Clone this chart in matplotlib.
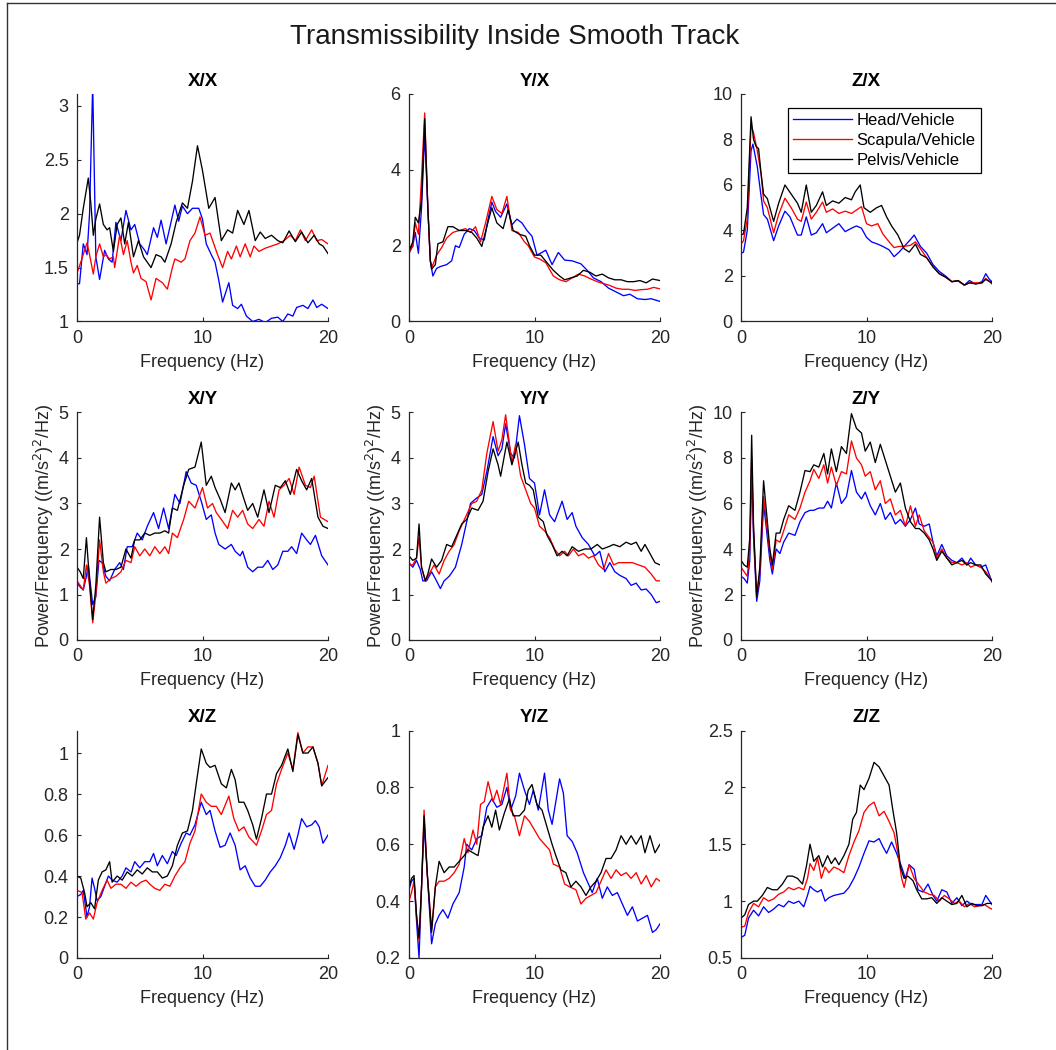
import matplotlib
matplotlib.use('Agg')

import matplotlib.pyplot as plt
from matplotlib.lines import Line2D
from matplotlib.ticker import FormatStrFormatter

plt.rcParams['font.family'] = ['Liberation Sans', 'DejaVu Sans']

# Transmissibility curves, (frequency Hz, value) pairs
# --- X/X ---
xx_head = [(0, 1.35), (0.2, 1.35), (0.5, 1.72), (0.8, 1.62), (1.0, 2.0), (1.25, 3.2), (1.5, 1.6), (1.8, 1.39),
           (2.2, 1.66), (2.5, 1.58), (2.8, 1.55), (3.1, 1.92), (3.5, 1.75), (3.9, 2.03), (4.3, 1.85), (4.6, 1.9),
           (5.0, 1.72), (5.4, 1.66), (5.6, 1.62), (6.1, 1.87), (6.4, 1.78), (6.7, 1.94), (7.1, 1.72), (7.8, 2.08),
           (8.1, 1.93), (8.4, 2.07), (8.8, 2.0), (9.2, 2.05), (9.7, 2.05), (10.0, 1.95), (10.3, 1.72), (10.7, 1.62),
           (11.0, 1.55), (11.3, 1.38), (11.6, 1.18), (12.1, 1.36), (12.4, 1.15), (12.8, 1.12), (13.1, 1.16),
           (13.5, 1.05), (14.0, 1.0), (14.5, 1.02), (15.0, 0.99), (15.5, 1.03), (16.0, 1.04), (16.4, 1.0),
           (16.8, 1.07), (17.2, 1.05), (17.5, 1.13), (18.0, 1.15), (18.4, 1.12), (18.8, 1.2), (19.1, 1.13),
           (19.5, 1.16), (20, 1.12)]
xx_scap = [(0, 1.45), (0.3, 1.55), (0.8, 1.73), (1.0, 1.62), (1.3, 1.44), (1.5, 1.6), (1.8, 1.72), (2.1, 1.6),
           (2.3, 1.62), (2.6, 1.58), (2.9, 1.6), (3.0, 1.5), (3.4, 1.8), (3.7, 1.62), (4.0, 1.75), (4.3, 1.55),
           (4.5, 1.45), (4.8, 1.52), (5.1, 1.4), (5.5, 1.37), (5.9, 1.2), (6.3, 1.4), (6.8, 1.36), (7.2, 1.3),
           (7.6, 1.5), (7.8, 1.58), (8.3, 1.55), (8.6, 1.58), (9.0, 1.75), (9.4, 1.82), (9.8, 1.97), (10.2, 1.8),
           (10.6, 1.82), (11.2, 1.62), (11.6, 1.5), (12.0, 1.65), (12.3, 1.58), (12.7, 1.7), (13.0, 1.6),
           (13.4, 1.72), (13.8, 1.6), (14.1, 1.7), (14.5, 1.65), (15.0, 1.68), (15.5, 1.7), (16.0, 1.72),
           (16.5, 1.75), (17.0, 1.8), (17.4, 1.75), (17.8, 1.85), (18.2, 1.75), (18.7, 1.85), (19.1, 1.75),
           (19.5, 1.76), (20, 1.72)]
xx_pelv = [(0, 1.73), (0.2, 1.8), (0.5, 2.05), (0.9, 2.33), (1.1, 2.1), (1.3, 1.8), (1.5, 1.95), (1.8, 2.09),
           (2.1, 1.9), (2.4, 1.85), (2.6, 1.87), (2.9, 1.65), (3.2, 1.9), (3.5, 1.96), (3.8, 1.72), (4.1, 1.92),
           (4.5, 1.6), (4.9, 1.75), (5.3, 1.6), (5.9, 1.5), (6.3, 1.62), (6.7, 1.6), (7.0, 1.55), (7.5, 1.72),
           (7.9, 1.92), (8.4, 2.1), (8.8, 2.05), (9.2, 2.3), (9.6, 2.63), (10.0, 2.4), (10.5, 2.05), (11.0, 2.15),
           (11.5, 1.75), (12.0, 1.85), (12.4, 1.82), (12.8, 2.03), (13.3, 1.9), (13.7, 2.03), (14.2, 1.75),
           (14.6, 1.83), (15.0, 1.77), (15.5, 1.8), (16.0, 1.75), (16.4, 1.73), (16.9, 1.84), (17.4, 1.74),
           (17.9, 1.83), (18.4, 1.73), (18.9, 1.8), (19.3, 1.72), (19.6, 1.7), (20, 1.63)]

# --- Y/X ---
yx_head = [(0, 1.8), (0.3, 2.0), (0.5, 2.35), (0.75, 1.8), (1.0, 3.0), (1.25, 4.95), (1.5, 3.0), (1.7, 1.6),
           (1.9, 1.2), (2.2, 1.4), (2.5, 1.45), (3.0, 1.5), (3.4, 1.6), (3.7, 2.0), (4.0, 1.95), (4.4, 2.3),
           (4.8, 2.45), (5.2, 2.4), (5.6, 2.2), (6.0, 2.15), (6.3, 2.7), (6.6, 3.15), (6.9, 2.9), (7.3, 2.75),
           (7.8, 3.1), (8.2, 2.55), (8.6, 2.7), (9.0, 2.6), (9.4, 2.4), (9.8, 2.25), (10.2, 1.75), (10.9, 1.88),
           (11.4, 1.5), (11.9, 1.82), (12.4, 1.62), (13.0, 1.6), (13.7, 1.52), (14.2, 1.35), (14.7, 1.15),
           (15.3, 1.05), (15.9, 0.88), (16.5, 0.78), (17.1, 0.68), (17.6, 0.72), (18.2, 0.6), (18.8, 0.58),
           (19.3, 0.6), (20, 0.53)]
yx_scap = [(0, 1.8), (0.3, 2.0), (0.5, 2.6), (0.75, 2.3), (1.0, 3.8), (1.25, 5.5), (1.5, 3.0), (1.7, 1.6),
           (1.85, 1.45), (2.2, 1.75), (2.6, 1.95), (3.0, 2.2), (3.5, 2.35), (4.0, 2.4), (4.5, 2.45), (4.9, 2.35),
           (5.3, 2.5), (5.7, 2.1), (6.1, 2.6), (6.6, 3.3), (7.0, 2.95), (7.4, 2.85), (7.8, 3.3), (8.2, 2.4),
           (8.7, 2.35), (9.2, 2.1), (9.5, 2.0), (10.0, 1.7), (10.4, 1.65), (10.9, 1.55), (11.5, 1.2), (12.0, 1.1),
           (12.5, 1.05), (13.0, 1.15), (13.5, 1.25), (14.0, 1.2), (14.5, 1.12), (15.0, 1.05), (15.5, 1.0),
           (16.0, 0.95), (16.5, 0.88), (17.0, 0.85), (17.5, 0.85), (18.0, 0.82), (18.5, 0.84), (19.0, 0.85),
           (19.5, 0.9), (20, 0.86)]
yx_pelv = [(0, 1.85), (0.3, 2.1), (0.5, 2.75), (0.75, 2.6), (1.0, 3.2), (1.25, 5.35), (1.5, 3.0), (1.7, 1.6),
           (1.8, 1.38), (2.1, 1.5), (2.3, 2.05), (2.7, 2.1), (3.1, 2.5), (3.5, 2.5), (4.0, 2.4), (4.5, 2.4),
           (5.0, 2.35), (5.4, 2.2), (5.8, 1.98), (6.2, 2.5), (6.6, 3.0), (7.0, 2.6), (7.5, 2.45), (7.9, 2.95),
           (8.3, 2.4), (8.8, 2.3), (9.3, 2.25), (9.6, 2.0), (10.0, 1.75), (10.5, 1.75), (11.0, 1.55), (11.5, 1.35),
           (12.0, 1.2), (12.4, 1.1), (12.9, 1.15), (13.4, 1.2), (13.9, 1.35), (14.4, 1.3), (14.9, 1.2),
           (15.4, 1.25), (15.9, 1.15), (16.4, 1.1), (16.9, 1.1), (17.4, 1.05), (17.9, 1.05), (18.4, 1.08),
           (18.9, 1.02), (19.4, 1.12), (20, 1.08)]

# --- Z/X ---
zx_head = [(0, 3.0), (0.2, 3.05), (0.5, 4.0), (0.8, 7.5), (0.95, 7.8), (1.3, 6.8), (1.6, 5.5), (1.8, 4.7),
           (2.1, 4.5), (2.6, 3.55), (3.0, 4.2), (3.5, 4.85), (3.9, 4.6), (4.5, 3.8), (4.8, 3.8), (5.2, 4.6),
           (5.6, 3.8), (6.0, 3.9), (6.5, 4.3), (6.8, 3.9), (7.3, 4.1), (7.8, 4.3), (8.3, 3.95), (8.8, 4.1),
           (9.2, 4.2), (9.6, 4.1), (10.0, 3.7), (10.4, 3.5), (10.9, 3.4), (11.3, 3.3), (11.8, 3.15), (12.2, 2.85),
           (12.6, 3.05), (13.0, 3.3), (13.5, 3.6), (13.8, 3.8), (14.3, 3.3), (14.8, 3.0), (15.3, 2.5), (15.8, 2.2),
           (16.3, 2.0), (16.8, 1.75), (17.3, 1.78), (17.8, 1.6), (18.2, 1.8), (18.7, 1.65), (19.2, 1.75),
           (19.5, 2.1), (19.8, 1.85), (20, 1.75)]
zx_scap = [(0, 3.4), (0.2, 3.55), (0.5, 4.5), (0.8, 8.6), (1.0, 8.3), (1.3, 7.5), (1.6, 6.5), (1.8, 5.3),
           (2.1, 5.0), (2.6, 3.9), (3.0, 4.7), (3.5, 5.42), (4.0, 5.0), (4.5, 4.5), (4.8, 4.4), (5.2, 5.25),
           (5.6, 4.5), (6.0, 4.8), (6.5, 5.25), (6.8, 4.8), (7.3, 4.95), (7.8, 4.75), (8.3, 4.85), (8.8, 4.75),
           (9.2, 4.9), (9.6, 5.05), (10.0, 4.3), (10.4, 4.2), (10.9, 4.3), (11.3, 3.85), (11.8, 3.5), (12.2, 3.25),
           (12.6, 3.3), (13.0, 3.3), (13.5, 3.35), (13.9, 3.5), (14.3, 3.2), (14.8, 2.8), (15.3, 2.4), (15.8, 2.1),
           (16.3, 1.95), (16.8, 1.75), (17.3, 1.8), (17.8, 1.6), (18.2, 1.7), (18.7, 1.7), (19.2, 1.7),
           (19.5, 1.9), (20, 1.65)]
zx_pelv = [(0, 3.8), (0.2, 3.85), (0.5, 5.0), (0.8, 9.0), (1.0, 8.0), (1.2, 7.7), (1.4, 7.6), (1.6, 6.5),
           (1.8, 5.6), (2.1, 5.4), (2.6, 4.4), (3.0, 5.2), (3.5, 6.0), (4.0, 5.6), (4.5, 5.2), (4.8, 4.8),
           (5.2, 6.0), (5.6, 4.8), (6.0, 5.1), (6.5, 5.7), (6.8, 5.1), (7.3, 5.3), (7.8, 5.2), (8.3, 5.45),
           (8.8, 5.35), (9.1, 5.7), (9.5, 6.0), (9.8, 5.0), (10.3, 4.8), (10.8, 5.0), (11.2, 5.1), (11.6, 4.6),
           (12.0, 4.2), (12.5, 3.8), (13.0, 3.2), (13.4, 3.05), (13.9, 3.4), (14.3, 2.95), (14.8, 2.8),
           (15.3, 2.4), (15.8, 2.1), (16.3, 1.95), (16.8, 1.75), (17.3, 1.8), (17.8, 1.6), (18.2, 1.7),
           (18.7, 1.65), (19.2, 1.7), (19.5, 1.85), (20, 1.7)]

# --- X/Y ---
xy_head = [(0, 1.25), (0.3, 1.15), (0.5, 1.1), (0.75, 1.4), (0.9, 1.65), (1.25, 0.78), (1.5, 0.95), (1.75, 1.75),
           (2.0, 1.7), (2.3, 1.4), (2.6, 1.3), (3.0, 1.55), (3.4, 1.7), (3.7, 1.55), (4.0, 2.05), (4.4, 2.05),
           (4.8, 2.35), (5.2, 2.2), (5.6, 2.5), (6.1, 2.8), (6.5, 2.45), (6.9, 2.9), (7.3, 2.45), (7.8, 3.2),
           (8.2, 3.0), (8.7, 3.7), (9.1, 3.45), (9.5, 3.4), (9.9, 3.05), (10.3, 2.65), (10.7, 2.75), (11.0, 2.35),
           (11.3, 2.1), (11.8, 2.0), (12.3, 2.1), (12.6, 1.95), (13.0, 1.85), (13.2, 1.95), (13.6, 1.6),
           (14.0, 1.5), (14.4, 1.6), (14.8, 1.6), (15.2, 1.75), (15.6, 1.55), (16.0, 1.65), (16.4, 1.95),
           (16.8, 1.95), (17.1, 2.05), (17.5, 1.9), (17.9, 2.35), (18.3, 2.2), (18.6, 2.1), (19.0, 2.3),
           (19.5, 1.85), (20, 1.65)]
xy_scap = [(0, 1.3), (0.25, 1.2), (0.5, 1.1), (0.75, 1.65), (1.0, 1.2), (1.25, 0.38), (1.5, 1.0), (1.8, 2.2),
           (2.1, 1.5), (2.3, 1.25), (2.7, 1.35), (3.1, 1.4), (3.5, 1.5), (3.9, 1.75), (4.3, 1.7), (4.6, 2.05),
           (5.0, 1.85), (5.4, 2.0), (5.8, 1.85), (6.2, 2.05), (6.6, 1.9), (7.0, 2.05), (7.3, 1.9), (7.6, 2.35),
           (8.0, 2.25), (8.5, 2.65), (8.9, 3.05), (9.4, 2.9), (10.0, 3.35), (10.4, 2.9), (10.8, 3.0), (11.1, 2.8),
           (11.5, 2.65), (12.0, 2.45), (12.4, 2.85), (12.8, 2.7), (13.2, 2.85), (13.6, 2.55), (14.0, 2.45),
           (14.5, 2.65), (14.9, 2.5), (15.3, 3.05), (15.7, 2.7), (16.1, 3.3), (16.5, 3.4), (16.9, 3.55),
           (17.3, 3.2), (17.7, 3.8), (18.2, 3.4), (18.6, 3.35), (18.9, 3.6), (19.4, 2.7), (20, 2.6)]
xy_pelv = [(0, 1.6), (0.25, 1.5), (0.5, 1.35), (0.75, 2.25), (1.0, 1.3), (1.25, 0.45), (1.5, 1.2), (1.8, 2.7),
           (2.1, 1.7), (2.3, 1.5), (2.7, 1.55), (3.1, 1.55), (3.5, 1.6), (3.9, 2.0), (4.3, 1.8), (4.6, 2.2),
           (5.0, 2.2), (5.4, 2.35), (5.8, 2.3), (6.2, 2.35), (6.6, 2.35), (7.0, 2.4), (7.3, 2.35), (7.6, 2.9),
           (8.0, 2.85), (8.5, 3.4), (8.9, 3.75), (9.4, 3.8), (9.9, 4.35), (10.3, 3.4), (10.7, 3.6), (11.0, 3.35),
           (11.4, 3.1), (11.8, 2.8), (12.3, 3.45), (12.6, 3.3), (12.9, 3.45), (13.3, 3.1), (13.6, 2.85),
           (14.0, 3.0), (14.4, 2.7), (14.9, 3.3), (15.3, 2.8), (15.8, 3.4), (16.2, 3.35), (16.6, 3.5),
           (17.0, 3.2), (17.5, 3.75), (17.9, 3.5), (18.3, 3.3), (18.7, 3.55), (19.2, 2.7), (19.6, 2.5), (20, 2.45)]

# --- Y/Y ---
yy_head = [(0, 1.7), (0.3, 1.6), (0.6, 1.75), (0.9, 1.55), (1.1, 1.3), (1.4, 1.3), (1.8, 1.5), (2.1, 1.35),
           (2.5, 1.13), (2.8, 1.3), (3.2, 1.4), (3.7, 1.6), (4.2, 2.1), (4.6, 2.6), (4.9, 3.0), (5.3, 3.1),
           (5.8, 3.2), (6.2, 3.7), (6.7, 4.47), (7.1, 4.05), (7.4, 4.2), (7.7, 4.75), (8.1, 4.1), (8.4, 4.0),
           (8.8, 4.93), (9.2, 4.3), (9.6, 3.55), (10.0, 3.45), (10.4, 2.75), (10.8, 3.3), (11.2, 2.75),
           (11.6, 2.6), (12.2, 3.05), (12.6, 2.65), (13.0, 2.8), (13.3, 2.5), (13.8, 2.25), (14.3, 2.1),
           (14.8, 1.85), (15.2, 1.95), (15.6, 1.5), (16.0, 1.7), (16.4, 1.5), (16.8, 1.42), (17.3, 1.35),
           (17.7, 1.2), (18.1, 1.25), (18.5, 1.1), (18.9, 1.12), (19.3, 1.0), (19.7, 0.82), (20, 0.85)]
yy_scap = [(0, 1.65), (0.3, 1.65), (0.6, 1.8), (0.8, 2.25), (1.0, 1.6), (1.3, 1.3), (1.6, 1.45), (2.0, 1.65),
           (2.4, 1.45), (2.8, 1.75), (3.2, 1.95), (3.6, 2.1), (4.0, 2.4), (4.5, 2.7), (5.0, 3.0), (5.4, 3.05),
           (5.8, 3.3), (6.2, 4.1), (6.7, 4.8), (7.1, 4.15), (7.4, 4.4), (7.7, 4.95), (8.2, 3.9), (8.5, 4.3),
           (8.9, 3.6), (9.3, 3.3), (9.7, 3.0), (10.0, 2.9), (10.4, 2.5), (10.8, 2.4), (11.2, 2.25), (11.6, 2.0),
           (12.0, 1.85), (12.4, 1.95), (12.7, 1.85), (13.1, 2.0), (13.5, 1.85), (13.9, 1.9), (14.3, 1.8),
           (14.7, 1.85), (15.1, 1.65), (15.5, 1.55), (15.9, 1.9), (16.3, 1.65), (16.7, 1.7), (17.3, 1.7),
           (17.8, 1.7), (18.3, 1.65), (18.8, 1.6), (19.3, 1.45), (19.7, 1.3), (20, 1.3)]
yy_pelv = [(0, 1.85), (0.3, 1.75), (0.6, 1.8), (0.8, 2.55), (1.0, 1.6), (1.3, 1.3), (1.5, 1.45), (1.8, 1.78),
           (2.2, 1.6), (2.6, 1.75), (3.0, 2.1), (3.4, 2.05), (3.8, 2.3), (4.2, 2.55), (4.6, 2.65), (5.0, 2.9),
           (5.5, 2.85), (5.9, 3.05), (6.3, 3.7), (6.7, 4.2), (7.1, 3.85), (7.3, 3.6), (7.8, 4.35), (8.2, 3.85),
           (8.7, 4.35), (9.0, 3.85), (9.3, 3.45), (9.6, 3.4), (9.9, 3.3), (10.3, 2.7), (10.7, 2.6), (11.0, 2.3),
           (11.4, 2.1), (11.8, 1.85), (12.2, 1.95), (12.6, 1.85), (13.0, 2.05), (13.5, 1.95), (14.0, 2.0),
           (14.5, 2.0), (15.0, 2.1), (15.4, 2.0), (15.9, 2.05), (16.3, 2.1), (16.8, 2.05), (17.3, 2.15),
           (17.7, 2.1), (18.1, 2.15), (18.5, 1.95), (18.8, 2.1), (19.2, 1.9), (19.6, 1.7), (20, 1.65)]

# --- Z/Y ---
zy_head = [(0, 2.8), (0.25, 2.7), (0.5, 2.5), (0.7, 3.5), (0.85, 7.5), (1.0, 4.5), (1.25, 1.7), (1.5, 2.6),
           (1.8, 6.0), (2.0, 5.0), (2.3, 3.5), (2.5, 2.9), (2.8, 4.0), (3.1, 3.8), (3.4, 4.3), (3.8, 4.7),
           (4.3, 4.6), (4.7, 5.2), (5.1, 5.6), (5.5, 5.7), (5.8, 5.7), (6.2, 5.8), (6.6, 5.8), (6.9, 6.1),
           (7.2, 5.8), (7.6, 6.9), (8.0, 6.0), (8.4, 6.3), (8.8, 7.45), (9.2, 6.5), (9.6, 6.2), (9.9, 6.5),
           (10.3, 5.9), (10.7, 5.5), (11.1, 6.0), (11.5, 5.3), (11.9, 5.6), (12.3, 5.1), (12.7, 5.3), (13.1, 5.0),
           (13.5, 5.3), (13.9, 5.8), (14.2, 5.1), (14.6, 5.0), (15.0, 5.1), (15.3, 4.3), (15.6, 3.7), (16.0, 4.2),
           (16.4, 3.7), (16.8, 3.5), (17.2, 3.4), (17.6, 3.6), (18.0, 3.3), (18.3, 3.6), (18.7, 3.3), (19.1, 3.2),
           (19.5, 3.3), (20, 2.55)]
zy_scap = [(0, 3.2), (0.25, 3.0), (0.5, 2.8), (0.7, 4.0), (0.85, 8.0), (1.0, 4.8), (1.25, 1.9), (1.5, 3.0),
           (1.8, 6.3), (2.0, 5.3), (2.3, 3.8), (2.5, 3.1), (2.8, 4.4), (3.1, 4.3), (3.4, 4.8), (3.8, 5.5),
           (4.3, 5.3), (4.7, 5.8), (5.1, 6.5), (5.5, 7.0), (5.8, 7.5), (6.2, 7.1), (6.6, 7.7), (6.9, 6.9),
           (7.2, 7.6), (7.6, 6.8), (8.0, 7.4), (8.4, 7.3), (8.8, 8.75), (9.2, 8.0), (9.6, 7.7), (9.9, 7.2),
           (10.3, 7.4), (10.7, 6.6), (11.1, 7.0), (11.5, 6.0), (11.9, 6.2), (12.3, 5.5), (12.7, 5.7), (13.1, 5.0),
           (13.5, 5.9), (13.9, 5.0), (14.2, 5.5), (14.6, 4.8), (15.0, 4.5), (15.3, 4.3), (15.6, 3.6), (16.0, 4.0),
           (16.4, 3.6), (16.8, 3.4), (17.2, 3.4), (17.6, 3.3), (18.0, 3.4), (18.3, 3.2), (18.7, 3.3), (19.1, 3.2),
           (19.5, 3.0), (20, 2.6)]
zy_pelv = [(0, 3.5), (0.25, 3.3), (0.5, 3.2), (0.7, 4.5), (0.85, 9.0), (1.0, 5.0), (1.25, 1.9), (1.5, 3.2),
           (1.8, 7.0), (2.0, 5.8), (2.3, 4.0), (2.5, 3.3), (2.8, 4.7), (3.1, 4.7), (3.4, 5.3), (3.8, 5.9),
           (4.3, 5.7), (4.7, 6.5), (5.1, 7.45), (5.5, 7.4), (5.8, 7.7), (6.2, 7.6), (6.6, 8.2), (6.9, 7.3),
           (7.2, 8.4), (7.6, 7.4), (8.0, 8.5), (8.4, 8.2), (8.8, 9.95), (9.2, 9.3), (9.6, 9.1), (9.9, 8.3),
           (10.3, 8.7), (10.7, 7.8), (11.1, 8.6), (11.5, 7.9), (11.9, 7.2), (12.3, 6.5), (12.7, 6.9), (13.1, 5.8),
           (13.5, 5.2), (13.9, 4.9), (14.2, 4.9), (14.6, 4.7), (15.0, 4.4), (15.3, 4.0), (15.6, 3.5), (16.0, 3.9),
           (16.4, 3.6), (16.8, 3.3), (17.2, 3.4), (17.6, 3.5), (18.0, 3.3), (18.3, 3.4), (18.7, 3.3), (19.1, 3.3),
           (19.5, 2.9), (20, 2.6)]

# --- X/Z ---
xz_head = [(0, 0.3), (0.3, 0.31), (0.5, 0.33), (0.8, 0.2), (1.0, 0.25), (1.2, 0.39), (1.4, 0.34), (1.6, 0.28),
           (1.9, 0.3), (2.2, 0.35), (2.5, 0.4), (2.8, 0.38), (3.2, 0.37), (3.6, 0.4), (3.9, 0.44), (4.3, 0.42),
           (4.6, 0.47), (5.0, 0.44), (5.4, 0.47), (5.8, 0.47), (6.1, 0.51), (6.4, 0.45), (6.8, 0.5), (7.2, 0.46),
           (7.6, 0.52), (7.9, 0.5), (8.3, 0.56), (8.7, 0.61), (9.0, 0.6), (9.4, 0.65), (9.9, 0.76), (10.3, 0.7),
           (10.6, 0.72), (11.0, 0.62), (11.4, 0.54), (11.8, 0.55), (12.2, 0.61), (12.6, 0.55), (13.0, 0.43),
           (13.4, 0.45), (13.8, 0.39), (14.2, 0.35), (14.6, 0.35), (15.0, 0.38), (15.4, 0.42), (15.8, 0.45),
           (16.2, 0.49), (16.6, 0.55), (16.9, 0.61), (17.3, 0.53), (17.6, 0.6), (17.9, 0.68), (18.3, 0.64),
           (18.7, 0.65), (19.0, 0.67), (19.3, 0.64), (19.6, 0.56), (20, 0.6)]
xz_scap = [(0, 0.33), (0.4, 0.32), (0.7, 0.19), (1.0, 0.22), (1.3, 0.19), (1.6, 0.27), (2.0, 0.33), (2.4, 0.38),
           (2.7, 0.34), (3.1, 0.36), (3.5, 0.36), (3.9, 0.34), (4.3, 0.37), (4.7, 0.35), (5.1, 0.37), (5.5, 0.38),
           (5.8, 0.36), (6.2, 0.34), (6.6, 0.33), (7.0, 0.36), (7.4, 0.35), (7.8, 0.4), (8.2, 0.44), (8.6, 0.47),
           (9.0, 0.56), (9.4, 0.62), (9.9, 0.8), (10.3, 0.76), (10.7, 0.74), (11.1, 0.74), (11.5, 0.7),
           (12.1, 0.79), (12.5, 0.68), (12.9, 0.62), (13.3, 0.64), (13.7, 0.59), (14.3, 0.55), (14.7, 0.62),
           (15.1, 0.7), (15.5, 0.72), (15.9, 0.85), (16.3, 0.92), (16.8, 1.0), (17.2, 0.92), (17.6, 1.1),
           (18.0, 1.0), (18.4, 1.03), (18.8, 1.03), (19.2, 0.95), (19.5, 0.84), (20, 0.94)]
xz_pelv = [(0, 0.4), (0.3, 0.39), (0.6, 0.32), (0.8, 0.25), (1.1, 0.27), (1.4, 0.24), (1.7, 0.38), (2.0, 0.42),
           (2.3, 0.43), (2.6, 0.47), (2.8, 0.37), (3.2, 0.4), (3.6, 0.38), (4.0, 0.42), (4.4, 0.4), (4.8, 0.43),
           (5.2, 0.41), (5.6, 0.44), (6.0, 0.42), (6.4, 0.42), (6.8, 0.39), (7.2, 0.4), (7.6, 0.45), (8.0, 0.55),
           (8.4, 0.61), (8.8, 0.62), (9.2, 0.72), (9.5, 0.85), (9.9, 1.02), (10.3, 0.95), (10.6, 0.93),
           (11.0, 0.94), (11.5, 0.85), (11.9, 0.83), (12.3, 0.92), (12.6, 0.87), (12.9, 0.76), (13.3, 0.76),
           (13.6, 0.72), (14.0, 0.65), (14.3, 0.58), (14.7, 0.68), (15.1, 0.8), (15.5, 0.8), (15.9, 0.9),
           (16.3, 0.94), (16.8, 1.02), (17.2, 0.91), (17.6, 1.09), (18.0, 1.0), (18.4, 1.0), (18.8, 1.03),
           (19.2, 0.95), (19.5, 0.84), (20, 0.88)]

# --- Y/Z ---
yz_head = [(0, 0.44), (0.2, 0.47), (0.4, 0.48), (0.6, 0.33), (0.8, 0.2), (1.0, 0.45), (1.2, 0.67), (1.45, 0.5),
           (1.8, 0.25), (2.1, 0.32), (2.4, 0.35), (2.7, 0.37), (3.1, 0.34), (3.5, 0.39), (4.0, 0.43), (4.4, 0.52),
           (4.6, 0.6), (5.0, 0.58), (5.4, 0.62), (5.8, 0.63), (6.2, 0.73), (6.6, 0.76), (7.0, 0.73), (7.4, 0.74),
           (7.8, 0.8), (8.1, 0.72), (8.5, 0.77), (8.8, 0.85), (9.2, 0.79), (9.6, 0.74), (9.9, 0.79), (10.3, 0.72),
           (10.8, 0.85), (11.1, 0.72), (11.4, 0.67), (12.0, 0.83), (12.3, 0.78), (12.6, 0.63), (13.0, 0.61),
           (13.4, 0.57), (13.9, 0.5), (14.3, 0.46), (14.6, 0.43), (15.0, 0.48), (15.4, 0.41), (15.8, 0.45),
           (16.2, 0.42), (16.6, 0.43), (17.0, 0.39), (17.4, 0.35), (17.8, 0.38), (18.2, 0.33), (18.6, 0.34),
           (19.0, 0.35), (19.4, 0.29), (19.7, 0.3), (20, 0.32)]
yz_scap = [(0, 0.4), (0.2, 0.43), (0.4, 0.47), (0.6, 0.35), (0.8, 0.26), (1.0, 0.45), (1.2, 0.72), (1.45, 0.5),
           (1.8, 0.3), (2.1, 0.45), (2.4, 0.47), (2.8, 0.47), (3.2, 0.48), (3.6, 0.5), (4.0, 0.53), (4.4, 0.62),
           (4.7, 0.57), (5.1, 0.65), (5.4, 0.6), (5.7, 0.74), (6.0, 0.75), (6.3, 0.82), (6.7, 0.75), (7.0, 0.79),
           (7.3, 0.74), (7.8, 0.85), (8.1, 0.72), (8.4, 0.7), (8.8, 0.63), (9.2, 0.7), (9.6, 0.68), (10.0, 0.65),
           (10.4, 0.62), (10.8, 0.6), (11.2, 0.58), (11.5, 0.53), (12.0, 0.52), (12.4, 0.46), (12.8, 0.45),
           (13.3, 0.44), (13.7, 0.39), (14.1, 0.41), (14.5, 0.42), (14.9, 0.43), (15.3, 0.47), (15.7, 0.51),
           (16.1, 0.48), (16.5, 0.51), (16.9, 0.49), (17.3, 0.5), (17.7, 0.48), (18.1, 0.5), (18.5, 0.46),
           (18.9, 0.49), (19.3, 0.45), (19.7, 0.48), (20, 0.47)]
yz_pelv = [(0, 0.45), (0.2, 0.48), (0.4, 0.49), (0.6, 0.35), (0.8, 0.27), (1.0, 0.45), (1.2, 0.7), (1.45, 0.5),
           (1.8, 0.29), (2.1, 0.45), (2.4, 0.54), (2.8, 0.5), (3.2, 0.52), (3.6, 0.52), (4.0, 0.54), (4.4, 0.56),
           (4.7, 0.58), (5.1, 0.57), (5.5, 0.56), (5.9, 0.66), (6.3, 0.7), (6.6, 0.66), (6.9, 0.72), (7.2, 0.65),
           (7.6, 0.71), (8.0, 0.76), (8.3, 0.7), (8.8, 0.7), (9.2, 0.72), (9.5, 0.79), (9.8, 0.81), (10.2, 0.74),
           (10.6, 0.72), (11.0, 0.66), (11.4, 0.6), (11.7, 0.56), (12.1, 0.51), (12.5, 0.5), (12.9, 0.45),
           (13.3, 0.47), (13.7, 0.45), (14.1, 0.42), (14.5, 0.45), (14.9, 0.47), (15.3, 0.5), (15.7, 0.55),
           (16.1, 0.55), (16.5, 0.58), (16.9, 0.63), (17.3, 0.6), (17.7, 0.63), (18.1, 0.6), (18.5, 0.63),
           (18.8, 0.57), (19.2, 0.63), (19.6, 0.57), (20, 0.6)]

# --- Z/Z ---
zz_head = [(0, 0.68), (0.3, 0.7), (0.6, 0.85), (1.0, 0.92), (1.4, 0.87), (1.8, 0.95), (2.2, 0.9), (2.6, 0.93),
           (3.0, 0.97), (3.4, 0.95), (3.8, 1.0), (4.2, 0.98), (4.6, 1.0), (5.0, 0.95), (5.3, 1.05), (5.5, 1.13),
           (5.8, 1.1), (6.1, 1.08), (6.4, 1.1), (6.7, 1.0), (7.0, 1.03), (7.4, 1.05), (7.8, 1.06), (8.2, 1.07),
           (8.6, 1.12), (9.0, 1.2), (9.4, 1.3), (9.8, 1.42), (10.2, 1.53), (10.6, 1.52), (11.0, 1.55), (11.3, 1.48),
           (11.6, 1.42), (12.0, 1.52), (12.4, 1.42), (12.8, 1.3), (13.1, 1.2), (13.4, 1.32), (13.8, 1.28),
           (14.1, 1.1), (14.5, 1.08), (14.9, 1.15), (15.3, 1.05), (15.6, 1.0), (16.0, 1.1), (16.4, 1.08),
           (16.8, 0.98), (17.2, 1.03), (17.6, 0.96), (18.0, 1.0), (18.4, 0.97), (18.8, 0.97), (19.2, 0.97),
           (19.5, 1.05), (20, 0.97)]
zz_scap = [(0, 0.77), (0.3, 0.78), (0.6, 0.9), (1.0, 0.98), (1.4, 0.95), (1.8, 1.03), (2.2, 1.0), (2.6, 1.02),
           (3.0, 1.06), (3.4, 1.08), (3.8, 1.12), (4.2, 1.1), (4.6, 1.12), (5.0, 1.1), (5.3, 1.2), (5.5, 1.33),
           (5.8, 1.27), (6.1, 1.38), (6.4, 1.2), (6.7, 1.3), (7.0, 1.25), (7.4, 1.3), (7.8, 1.28), (8.2, 1.25),
           (8.6, 1.4), (9.0, 1.52), (9.4, 1.62), (9.8, 1.78), (10.2, 1.84), (10.6, 1.87), (11.0, 1.75),
           (11.4, 1.79), (11.8, 1.7), (12.2, 1.6), (12.5, 1.42), (12.8, 1.2), (13.0, 1.12), (13.4, 1.32),
           (13.8, 1.2), (14.2, 1.14), (14.6, 1.08), (15.0, 1.06), (15.4, 1.05), (15.8, 1.0), (16.2, 1.05),
           (16.6, 1.02), (17.0, 0.98), (17.4, 1.0), (17.8, 0.95), (18.2, 0.98), (18.6, 0.95), (19.0, 0.96),
           (19.4, 0.97), (19.8, 0.94), (20, 0.93)]
zz_pelv = [(0, 0.85), (0.3, 0.88), (0.6, 0.97), (1.0, 1.0), (1.3, 1.0), (1.7, 1.05), (2.1, 1.12), (2.5, 1.1),
           (2.9, 1.1), (3.3, 1.15), (3.7, 1.22), (4.1, 1.22), (4.5, 1.2), (4.9, 1.15), (5.2, 1.3), (5.5, 1.5),
           (5.8, 1.35), (6.2, 1.4), (6.5, 1.3), (6.9, 1.4), (7.2, 1.33), (7.5, 1.38), (7.8, 1.32), (8.2, 1.4),
           (8.6, 1.5), (8.9, 1.72), (9.2, 1.78), (9.5, 2.02), (9.8, 1.98), (10.2, 2.08), (10.6, 2.22),
           (11.0, 2.18), (11.4, 2.1), (11.8, 2.02), (12.1, 1.8), (12.4, 1.6), (12.7, 1.3), (13.0, 1.2),
           (13.3, 1.22), (13.7, 1.18), (14.0, 1.1), (14.4, 1.02), (14.8, 1.02), (15.2, 1.03), (15.6, 0.98),
           (16.0, 1.03), (16.4, 1.0), (16.8, 0.97), (17.2, 0.98), (17.6, 1.05), (18.0, 0.95), (18.4, 0.98),
           (18.8, 0.96), (19.2, 0.96), (19.6, 0.98), (20, 0.98)]

titles = ['X/X', 'Y/X', 'Z/X', 'X/Y', 'Y/Y', 'Z/Y', 'X/Z', 'Y/Z', 'Z/Z']
series_names = ['Head/Vehicle', 'Scapula/Vehicle', 'Pelvis/Vehicle']
panel_data = [
    (xx_head, xx_scap, xx_pelv), (yx_head, yx_scap, yx_pelv), (zx_head, zx_scap, zx_pelv),
    (xy_head, xy_scap, xy_pelv), (yy_head, yy_scap, yy_pelv), (zy_head, zy_scap, zy_pelv),
    (xz_head, xz_scap, xz_pelv), (yz_head, yz_scap, yz_pelv), (zz_head, zz_scap, zz_pelv),
]
y_limits = [(1, 3.11), (0, 6), (0, 10), (0, 5), (0, 5), (0, 10), (0, 1.11), (0.2, 1), (0.5, 2.5)]
y_ticks = [[1, 1.5, 2, 2.5, 3], [0, 2, 4, 6], [0, 2, 4, 6, 8, 10],
           [0, 1, 2, 3, 4, 5], [0, 1, 2, 3, 4, 5], [0, 2, 4, 6, 8, 10],
           [0, 0.2, 0.4, 0.6, 0.8, 1], [0.2, 0.4, 0.6, 0.8, 1], [0.5, 1, 1.5, 2, 2.5]]
colors = ['#0000ff', '#ff0000', '#000000']
axis_gray = '#262626'

W, H = 1056, 1050
fig = plt.figure(figsize=(W / 100, H / 100), dpi=100)

col_left = [77, 409, 741]
row_top = [94, 412.5, 730.5]
ax_w, ax_h = 251, 227.5

for i, (title, curves) in enumerate(zip(titles, panel_data)):
    r, c = divmod(i, 3)
    ax = fig.add_axes([col_left[c] / W, 1 - (row_top[r] + ax_h) / H, ax_w / W, ax_h / H])
    for pts, col, name in zip(curves, colors, series_names):
        f = [p[0] for p in pts]
        v = [p[1] for p in pts]
        ax.plot(f, v, color=col, linewidth=0.95, label=name)
    ax.set_xlim(0, 20)
    ax.set_ylim(*y_limits[i])
    ax.set_xticks([0, 10, 20])
    ax.set_yticks(y_ticks[i])
    ax.yaxis.set_major_formatter(FormatStrFormatter('%g'))
    ax.spines['top'].set_visible(False)
    ax.spines['right'].set_visible(False)
    for s in ('left', 'bottom'):
        ax.spines[s].set_color(axis_gray)
        ax.spines[s].set_linewidth(0.9)
    ax.tick_params(direction='in', length=3, width=0.8, colors=axis_gray,
                   labelsize=13, labelcolor=axis_gray, pad=6)
    ax.set_title(title, fontsize=13.5, fontweight='bold', pad=6)
    ax.set_xlabel('Frequency (Hz)', fontsize=13, color=axis_gray, labelpad=5)
    if r == 1:
        ax.set_ylabel('Power/Frequency ((m/s$^2$)$^2$/Hz)', fontsize=13, color=axis_gray, labelpad=2)
    if i == 2:
        leg = ax.legend(loc='upper right', bbox_to_anchor=(0.955, 0.94), fontsize=12,
                        frameon=True, fancybox=False, edgecolor='black', framealpha=1,
                        handlelength=3.5, handletextpad=0.3, borderpad=0.3, labelspacing=0.3,
                        borderaxespad=0)
        leg.get_frame().set_linewidth(0.9)

fig.text(515 / W, 1 - 37 / H, 'Transmissibility Inside Smooth Track', fontsize=20,
         ha='center', va='center', color='#1a1a1a')

# thin frame line along the top and left edges of the screenshot
fig.add_artist(Line2D([7 / W, 7 / W], [0, 1 - 3 / H], color='#333333', linewidth=1.0))
fig.add_artist(Line2D([7 / W, 1], [1 - 3 / H, 1 - 3 / H], color='#333333', linewidth=1.0))

fig.savefig('out.png', dpi=100)
